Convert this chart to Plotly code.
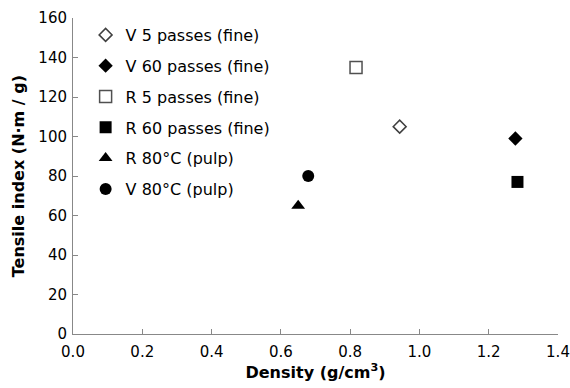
import plotly.graph_objects as go

names = ["V 5 passes (fine)", "V 60 passes (fine)", "R 5 passes (fine)",
         "R 60 passes (fine)", "R 80°C (pulp)", "V 80°C (pulp)"]
density = [0.943, 1.277, 0.817, 1.283, 0.650, 0.679]
tensile = [105, 99, 135, 77, 65, 80]
symbols = ["diamond-open", "diamond", "square-open", "square", "triangle-up", "circle"]
colors = ["#404040", "black", "#505050", "black", "black", "black"]
sizes = [10, 11, 12, 12, 12, 12]

FONT = "DejaVu Sans"
fig = go.Figure()
for i, n in enumerate(names):
    fig.add_trace(go.Scatter(
        x=[density[i]], y=[tensile[i]], mode="markers", name=n,
        legendgroup=str(i),
        marker=dict(symbol=symbols[i], color=colors[i], size=sizes[i],
                    line=dict(width=1.5 if "open" in symbols[i] else 0, color=colors[i])),
    ))

axis_common = dict(showgrid=False, zeroline=False, showline=True, linecolor="#888888",
                   linewidth=1, ticks="inside", ticklen=5, tickcolor="#888888",
                   ticklabeloverflow="allow", automargin=False,
                   tickfont=dict(family=FONT, size=15, color="black"))
fig.update_layout(
    width=570, height=388, margin=dict(l=73, r=12, t=18, b=54),
    paper_bgcolor="white", plot_bgcolor="white",
    font=dict(family=FONT, color="black"),
    xaxis=dict(range=[0, 1.4], dtick=0.2, tickformat=".1f", ticklabelstandoff=4,
               title=dict(text="<b>Density (g/cm<sup>3</sup>)</b>", font=dict(family=FONT, size=16), standoff=6),
               **axis_common),
    yaxis=dict(range=[0, 160], dtick=20, ticklabelstandoff=2, **axis_common),
    legend=dict(x=0.026, y=1.0, xanchor="left", yanchor="top", bgcolor="rgba(0,0,0,0)",
                font=dict(family=FONT, size=16), tracegroupgap=7, itemwidth=30),
    showlegend=True,
    annotations=[dict(text="<b>Tensile index (N·m / g)</b>", textangle=-90,
                      xref="paper", yref="paper", x=-0.113, y=0.5,
                      xanchor="center", yanchor="middle", showarrow=False,
                      font=dict(family=FONT, size=16, color="black"))],
)
fig.write_html("out.html")
